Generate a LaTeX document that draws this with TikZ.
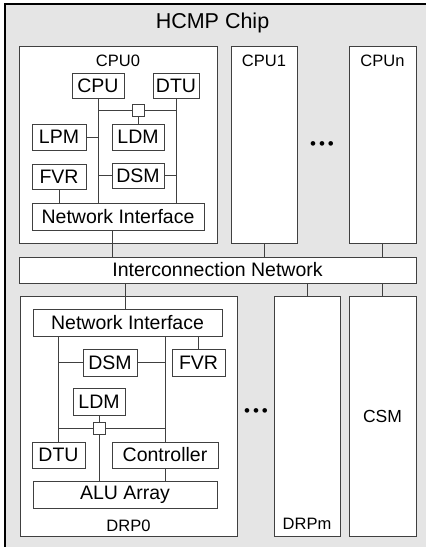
\documentclass[tikz,border=0pt]{standalone}
\usepackage{fontspec}
\setmainfont{Liberation Sans}
\usepackage{tikz}
\usetikzlibrary{calc}
\usetikzlibrary{positioning}
\definecolor{chipgray}{rgb}{0.9,0.9,0.9}
\definecolor{edge}{rgb}{0.25,0.25,0.25}

\begin{document}
\begin{tikzpicture}[x=1pt,y=-1pt,
    blk/.style={draw=edge,line width=0.9pt,fill=white,inner sep=0pt,font=\fontsize{19.5}{20}\selectfont},
    tile/.style={blk,minimum width=#1,minimum height=197},
    lbl/.style={inner sep=0pt,font=\fontsize{16.5}{17}\selectfont},
    sw/.style={draw=edge,line width=0.9pt,fill=white,minimum size=12,inner sep=0pt},
    wire/.style={draw=edge,line width=0.9pt}]
        \useasboundingbox (0,0) rectangle (426,547);
        \fill[chipgray] (5,4) rectangle (432,552);
        \draw[black,line width=1.3pt] (5,552) -- (5,4) -- (432,4);
        \node[inner sep=0pt,font=\fontsize{21.5}{22}\selectfont] (title) at (212.5,23) {HCMP Chip};

        \node[tile=198] (cpuA) at (118,144.5) {};
        \node[tile=66]  (cpuB) at (264,144.5) {};
        \node[tile=67]  (cpuN) at (382.5,144.5) {};
        \node[lbl, below=9.5pt of cpuA.north] (cpuAt) {CPU0};
        \node[lbl, below=9.5pt of cpuB.north] (cpuBt) {CPU1};
        \node[lbl, below=9.5pt of cpuN.north] (cpuNt) {CPUn};
        \node[font=\fontsize{17}{17}\selectfont] (dotsA) at (322,146) {\textbullet\,\textbullet\,\textbullet};

        \node[blk,minimum width=52,minimum height=25] (cpu) at (98,85.5) {CPU};
        \node[blk,minimum width=46,minimum height=25] (dtu) at (176,85.5) {DTU};
        \node[sw] (sw0) at (138,110.5) {};
        \node[blk,minimum width=54,minimum height=26] (lpm) at (59,137) {LPM};
        \node[blk,minimum width=52,minimum height=26] (ldm0) at (138,137) {LDM};
        \node[blk,minimum width=54,minimum height=25] (fvr0) at (59,176.5) {FVR};
        \node[blk,minimum width=52,minimum height=25] (dsm0) at (138,175.5) {DSM};
        \node[blk,minimum width=172,minimum height=27] (ni0) at (118,216.5) {Network Interface};
        \draw[wire] (cpu.south) -- (cpu.south |- ni0.north);
        \draw[wire] (dtu.south) -- (dtu.south |- ni0.north);
        \draw[wire] (cpu.south |- sw0) -- (sw0) -- (dtu.south |- sw0);
        \draw[wire] (sw0.south) -- (ldm0.north);
        \draw[wire] (lpm.east) -- (lpm.east -| cpu.south);
        \draw[wire] (dsm0.west) -- (dsm0.west -| cpu.south);
        \draw[wire] (dsm0.east) -- (dsm0.east -| dtu.south);
        \draw[wire] (fvr0.south) -- (fvr0.south |- ni0.north);

        \node[blk,minimum width=397,minimum height=26] (net) at (217.5,270) {Interconnection Network};
        \draw[wire] ([xshift=-6pt]ni0.south) -- ([xshift=-6pt]ni0.south |- net.north);
        \draw[wire] (cpuB.south) -- (cpuB.south |- net.north);
        \draw[wire] (cpuN.south) -- (cpuN.south |- net.north);

        \node[blk,minimum width=217,minimum height=240] (drpA) at (128.5,416) {};
        \node[blk,minimum width=66,minimum height=240] (drpM) at (307,416) {};
        \node[blk,minimum width=67,minimum height=240,font=\fontsize{17.5}{18}\selectfont] (csm) at (382.5,416) {CSM};
        \node[lbl, above=5pt of drpA.south] (drpAt) {DRP0};
        \node[lbl, above=7pt of drpM.south] (drpMt) {DRPm};
        \node[font=\fontsize{17}{17}\selectfont] (dotsB) at (256,413) {\textbullet\,\textbullet\,\textbullet};
        \draw[wire] (drpM.north) -- (drpM.north |- net.south);
        \draw[wire] (csm.north) -- (csm.north |- net.south);

        \node[blk,minimum width=189,minimum height=27] (ni1) at (127.5,322.5) {Network Interface};
        \node[blk,minimum width=54,minimum height=27] (dsm1) at (110,362.5) {DSM};
        \node[blk,minimum width=53,minimum height=27] (fvr1) at (198.5,362.5) {FVR};
        \node[blk,minimum width=52,minimum height=27] (ldm1) at (99,401.5) {LDM};
        \node[sw] (sw1) at (99,428.5) {};
        \node[blk,minimum width=53,minimum height=26] (dtu1) at (58.5,455) {DTU};
        \node[blk,minimum width=106,minimum height=26] (ctl) at (165,455) {Controller};
        \node[blk,minimum width=184,minimum height=27] (alu) at (125,494.5) {ALU Array};
        \draw[wire] ([xshift=-2.5pt]ni1.north) -- ([xshift=-2.5pt]ni1.north |- net.south);
        \draw[wire] (fvr1.north) -- (fvr1.north |- ni1.south);
        \draw[wire] (dtu1.north) -- (dtu1.north |- ni1.south);
        \draw[wire] (ctl.north) -- (ctl.north |- ni1.south);
        \draw[wire] (dsm1.west) -- (dsm1.west -| dtu1.north);
        \draw[wire] (dsm1.east) -- (dsm1.east -| ctl.north);
        \draw[wire] (ldm1.south) -- (sw1.north);
        \draw[wire] (dtu1.north |- sw1) -- (sw1) -- (ctl.north |- sw1);
        \draw[wire] (sw1.south) -- (sw1.south |- alu.north);
        \draw[wire] (ctl.south) -- (ctl.south |- alu.north);
\end{tikzpicture}
\end{document}
